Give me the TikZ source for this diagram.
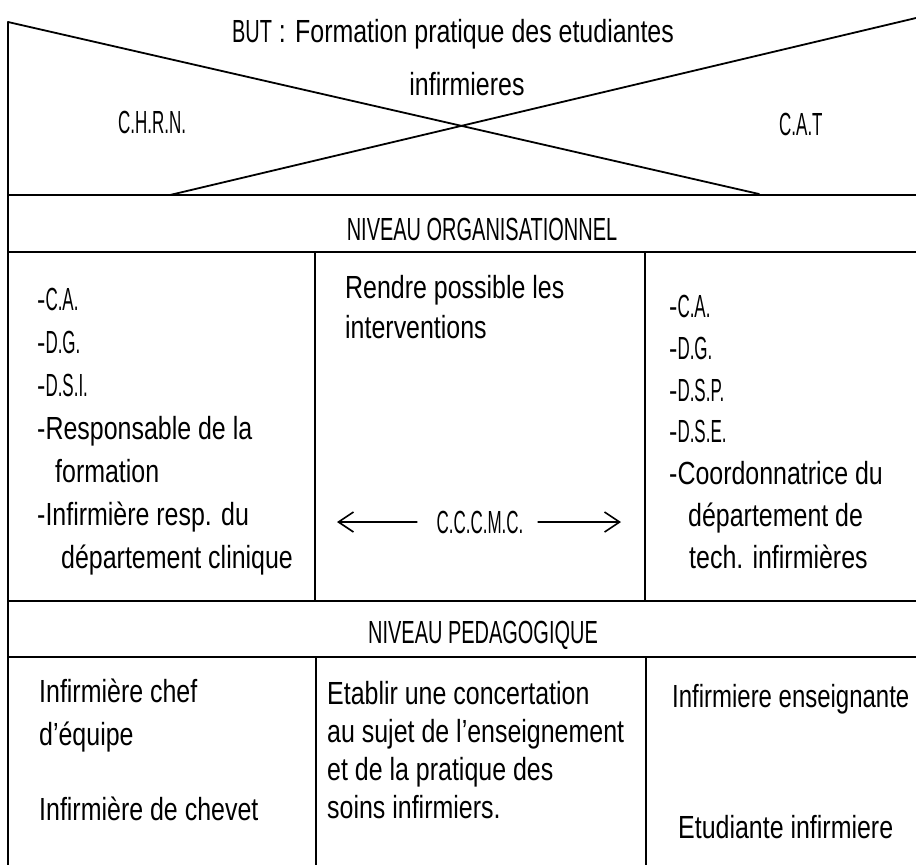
\documentclass[tikz,border=0pt]{standalone}
\usepackage{fontspec}
\usepackage{graphicx}
\setmainfont[FakeStretch=0.78]{Liberation Sans}
\usetikzlibrary{arrows.meta}
\newcommand\bodyfont{\fontsize{32}{43}\selectfont}
% condensed capitals for headings and abbreviations
\newcommand\capsrow[1]{\scalebox{0.8}[1]{#1}}
\newcommand\abbr[1]{\scalebox{0.68}[1]{#1}}
\begin{document}
\begin{tikzpicture}[x=1pt,y=-1pt,
  frame/.style={line width=1.8pt,line cap=round},
  txt/.style={inner sep=0pt,font=\bodyfont},
  % multi-line blocks are placed by the baseline of their last line
  col/.style={txt,align=left,anchor=base west},
  head/.style={txt,anchor=base},
  link/.style={line width=1.6pt,-{Straight Barb[length=15pt,width=20pt,line width=1.6pt]}}]
\useasboundingbox (0,0) rectangle (916,865);

% outer frame and horizontal bands
\draw[frame] (8,22) -- (8,865);
\draw[frame] (8,195) -- (916,195);
\draw[frame] (8,252) -- (916,252);
\draw[frame] (8,601) -- (916,601);
\draw[frame] (8,657) -- (916,657);
% column dividers
\draw[frame] (315,252) -- (315,601);
\draw[frame] (645,252) -- (645,601);
\draw[frame] (316,657) -- (316,865);
\draw[frame] (646,657) -- (646,865);
% crossing diagonals of the header
\draw[frame] (8,22) -- (759,194);
\draw[frame] (170,195) -- (916,18);

% header texts
\node[head] (but) at (453,42) {\capsrow{BUT} : Formation pratique des etudiantes};
\node[head] (but2) at (467,95) {infirmieres};
\node[txt,anchor=base west] (chrn) at (118,133) {\abbr{C.H.R.N.}};
\node[txt,anchor=base west] (cat) at (779,135) {\abbr{C.A.T}};

% organisational level
\node[head] (org) at (482,240) {\capsrow{NIVEAU ORGANISATIONNEL}};
\node[col] (orgL) at (37,568) {-\abbr{C.A.}\\-\abbr{D.G.}\\-\abbr{D.S.I.}\\-Responsable de la\\\hspace*{18pt}formation\\-Infirmière resp. du\\\hspace*{24pt}département clinique};
\node[col,font={\fontsize{32}{40}\selectfont}] (orgM) at (345,338) {Rendre possible les\\interventions};
\node[col,font={\fontsize{32}{41.7}\selectfont}] (orgR) at (669,568) {-\abbr{C.A.}\\-\abbr{D.G.}\\-\abbr{D.S.P.}\\-\abbr{D.S.E.}\\-Coordonnatrice du\\\hspace*{19pt}département de\\\hspace*{20pt}tech. infirmières};

\node[head] (ccc) at (480,533) {\abbr{C.C.C.M.C.}};
\coordinate (arrL) at (337,522);
\coordinate (arrR) at (621,522);
\draw[link,shorten <=19pt] (ccc.west) -- (arrL);
\draw[link,shorten <=14pt] (ccc.east) -- (arrR);

% pedagogical level
\node[head] (ped) at (483,643) {\capsrow{NIVEAU PEDAGOGIQUE}};
\node[col] (pedL1) at (39,745) {Infirmière chef\\d'équipe};
\node[col] (pedL2) at (39,820) {Infirmière de chevet};
\node[col,font={\fontsize{32}{37.7}\selectfont}] (pedM) at (327,818) {Etablir une concertation\\au sujet de l'enseignement\\et de la pratique des\\soins infirmiers.};
\node[col] (pedR1) at (672,707) {\scalebox{0.96}[1]{Infirmiere enseignante}};
\node[col] (pedR2) at (678,838) {Etudiante infirmiere};
\end{tikzpicture}
\end{document}
